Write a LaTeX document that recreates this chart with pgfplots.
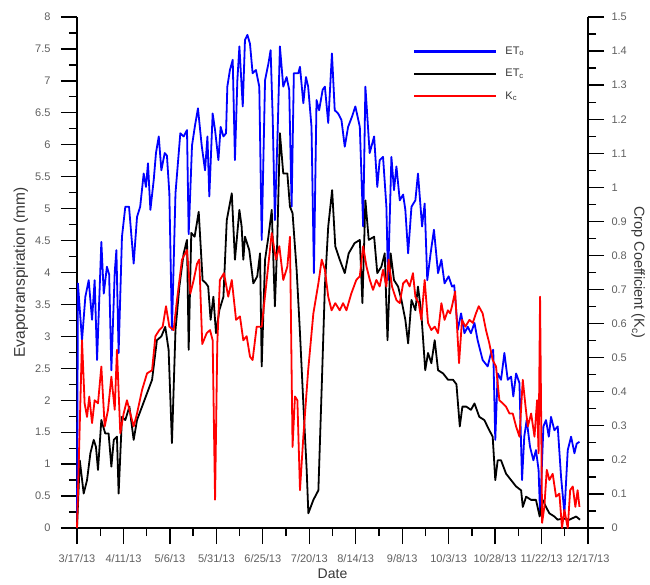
\documentclass[border=0pt]{standalone}
\usepackage{fontspec}
\setmainfont{Liberation Sans}
\usepackage{pgfplots}
\pgfplotsset{compat=1.18}
\definecolor{ticklab}{RGB}{95,95,95}
\definecolor{labc}{RGB}{55,55,55}

\pgfplotstableread{
day et
0 0
0.5 3.83
2.7 2.94
4.5 3.62
6.3 3.88
8.1 3.26
9.5 3.88
10.8 2.63
13.1 4.48
14.4 3.67
16.1 4.09
17.3 3.97
18.5 2.47
20.3 4.00
21.2 4.35
22.4 2.74
24.2 4.56
26.0 5.03
28.0 5.03
30.5 4.14
32.3 4.87
34.0 5.03
35.9 5.55
37.1 5.34
38.2 5.71
39.5 4.98
41.3 5.45
42.5 5.87
44.0 6.13
45.4 5.60
47.2 5.87
48.4 5.83
49.7 5.24
51.1 3.10
53.0 5.24
55.6 6.18
57.4 6.13
59.2 6.23
60.1 4.60
61.9 5.99
63.5 6.30
65.1 6.57
67.1 5.99
68.9 5.60
70.2 6.13
71.2 5.19
73.0 6.49
74.3 6.23
76.1 5.76
77.3 6.28
78.8 6.13
80.2 6.18
80.9 6.91
82.3 7.17
83.8 7.33
85.0 5.76
86.3 7.01
87.4 7.54
89.2 6.60
90.4 7.64
91.7 7.72
93.1 7.58
94.5 7.12
96.3 7.17
98.1 6.91
99.4 4.51
101.2 7.01
103.0 7.27
104.2 7.48
105.3 6.44
106.5 4.82
108.0 6.23
109.2 7.54
111.0 6.91
112.8 7.06
114.2 6.86
115.5 5.03
116.7 7.12
119.1 7.12
120.0 7.22
121.8 6.65
123.2 7.06
124.4 6.91
126.2 6.28
127.5 3.99
128.9 6.70
130.3 6.54
132.2 6.86
133.4 6.91
135.2 6.34
137.2 7.43
138.7 6.54
140.5 6.49
142.3 6.39
144.1 5.97
145.9 6.28
148.0 6.44
149.8 6.60
152.2 6.28
154.0 4.72
155.2 6.91
157.5 5.87
159.9 6.13
161.6 5.34
162.9 5.76
164.7 5.81
166.5 5.03
167.4 3.88
169.2 5.81
170.6 5.29
171.9 5.66
173.7 5.13
175.5 5.22
176.7 4.98
178.2 4.30
180.0 5.03
182.1 5.13
183.5 5.55
185.7 4.72
187.1 5.08
188.5 3.88
190.3 4.30
192.1 4.67
194.3 3.99
196.1 4.20
197.8 3.83
200.0 3.94
201.8 3.78
203.0 3.80
204.9 3.10
206.7 3.36
208.5 3.05
210.3 3.15
212.0 3.05
213.9 3.21
215.6 2.94
218.3 2.63
221.0 2.53
222.8 2.74
224.0 2.79
225.1 1.38
226.4 2.42
228.2 2.32
230.0 2.74
231.8 2.32
233.6 2.37
234.8 2.06
236.3 2.42
238.1 2.27
239.5 0.75
240.7 1.43
242.0 1.69
243.8 1.27
245.6 1.06
247.0 1.22
248.4 0.91
249.2 0.23
251.0 1.59
252.4 1.69
253.9 1.43
255.1 1.74
256.9 1.53
258.7 1.59
260.5 0.80
262.3 0.23
264.1 1.22
265.9 1.43
267.7 1.17
268.9 1.32
270.4 1.35
}\etodata

\pgfplotstableread{
day et
0 0
1.5 1.06
3.6 0.54
5.4 0.75
7.2 1.17
9.0 1.38
10.2 1.27
11.3 0.91
13.1 1.69
15.2 1.48
17.0 1.48
18.5 0.96
19.8 1.38
21.5 1.43
22.4 0.54
24.2 1.74
26.0 1.69
28.2 1.90
30.5 1.38
32.3 1.69
35.0 1.90
37.7 2.11
40.4 2.32
43.0 2.94
45.4 3.00
47.5 3.15
49.3 2.79
51.1 1.33
53.0 3.10
55.1 3.78
57.4 4.30
59.2 4.51
60.1 2.79
61.5 4.62
63.3 4.56
65.5 4.95
67.6 3.88
69.4 3.83
70.6 3.78
71.9 3.26
73.4 3.62
74.8 3.05
76.6 3.41
78.8 3.62
80.6 4.82
83.3 5.24
85.0 4.20
87.4 4.98
88.6 4.72
89.5 4.20
90.4 4.56
92.7 4.35
94.9 3.83
97.0 3.94
98.5 4.30
99.4 2.53
101.2 4.20
103.0 4.56
104.8 4.98
106.5 3.47
107.7 4.41
109.2 6.18
111.0 5.55
113.2 5.55
114.6 5.03
116.0 4.93
118.2 4.04
120.0 3.05
121.8 1.95
123.6 0.91
124.5 0.23
127.2 0.44
129.9 0.59
131.7 2.21
133.4 3.78
135.2 4.72
137.3 5.29
139.0 4.41
141.4 4.20
144.1 3.99
146.2 4.30
149.4 4.46
152.2 4.51
153.6 3.52
155.2 5.13
157.0 4.51
159.9 4.56
161.6 3.99
163.8 4.09
165.6 4.30
167.1 2.94
168.8 4.30
170.6 3.88
172.8 3.78
174.6 3.57
176.7 3.26
178.2 2.89
180.0 3.57
182.1 3.41
183.5 3.78
185.3 3.36
187.4 2.47
188.9 2.74
190.7 2.58
192.5 2.94
194.3 2.47
197.0 2.42
199.7 2.32
202.4 2.32
204.2 2.25
206.0 1.59
207.4 1.90
209.5 1.90
212.0 1.85
213.9 1.95
216.5 1.74
219.2 1.69
221.9 1.53
223.7 1.43
225.1 0.75
226.4 1.06
228.2 1.06
230.9 0.85
233.6 0.75
236.3 0.65
239.0 0.59
239.9 0.33
241.7 0.49
244.4 0.44
247.0 0.44
249.0 0.18
250.6 0.44
252.4 0.33
254.2 0.23
256.9 0.18
258.7 0.13
261.4 0.15
265.0 0.13
268.6 0.18
270.7 0.13
}\etcdata

\pgfplotstableread{
day kc
0 0
2.7 0.551
4.1 0.366
5.4 0.326
6.6 0.386
8.1 0.308
9.5 0.375
11.3 0.366
13.1 0.474
14.9 0.298
16.7 0.347
18.5 0.444
20.3 0.347
21.5 0.523
23.3 0.278
25.1 0.336
26.9 0.375
28.7 0.336
30.5 0.298
32.3 0.336
35.0 0.405
37.7 0.454
40.4 0.463
42.2 0.563
44.3 0.581
46.1 0.591
47.9 0.651
49.7 0.591
52.0 0.581
53.8 0.669
56.5 0.788
59.2 0.816
61.0 0.688
62.8 0.728
64.6 0.776
65.8 0.788
67.4 0.540
69.8 0.572
71.6 0.581
73.0 0.551
74.3 0.083
75.5 0.542
76.9 0.728
79.1 0.748
81.4 0.679
83.3 0.728
85.6 0.611
87.7 0.621
89.5 0.551
91.3 0.563
93.1 0.503
94.5 0.493
96.7 0.591
99.4 0.591
102.1 0.728
104.8 0.866
107.1 0.788
108.9 0.827
111.0 0.728
113.2 0.767
114.6 0.855
116.0 0.238
117.3 0.386
118.6 0.375
120.0 0.111
121.8 0.268
124.4 0.463
127.2 0.630
129.9 0.718
131.7 0.788
133.4 0.758
135.2 0.679
137.0 0.639
139.0 0.660
141.4 0.639
143.2 0.660
145.0 0.639
147.6 0.688
150.3 0.728
152.2 0.739
154.0 0.827
155.8 0.767
157.6 0.728
159.3 0.699
161.1 0.728
162.9 0.709
164.7 0.758
166.5 0.709
167.7 0.788
169.5 0.709
171.9 0.669
173.7 0.660
175.5 0.718
177.3 0.728
179.0 0.709
180.8 0.748
182.1 0.679
183.9 0.660
185.3 0.611
187.1 0.728
188.9 0.602
190.7 0.581
192.5 0.591
194.3 0.572
196.1 0.660
197.8 0.611
199.6 0.639
200.8 0.630
201.8 0.651
203.5 0.694
205.6 0.484
207.2 0.611
209.0 0.591
211.2 0.611
213.0 0.602
214.7 0.630
216.2 0.651
218.3 0.630
220.1 0.581
221.9 0.542
223.7 0.493
225.5 0.474
227.3 0.375
229.1 0.366
230.9 0.356
232.7 0.336
234.5 0.336
236.3 0.298
238.1 0.268
239.9 0.435
241.4 0.356
242.6 0.298
244.4 0.336
246.2 0.268
247.6 0.375
248.4 0.219
249.2 0.679
250.3 0.015
251.5 0.062
252.8 0.171
254.2 0.141
256.0 0.159
257.8 0.092
259.6 0.101
261.0 0.000
262.3 0.053
264.1 0.000
265.4 0.111
266.8 0.122
268.2 0.062
269.4 0.111
270.4 0.062
}\kcdata

\begin{document}
\begin{tikzpicture}
\useasboundingbox (-77pt,-56pt) rectangle (573pt,528pt);
\begin{axis}[
  at={(0,0)}, anchor=south west,
  scale only axis, width=511pt, height=511pt,
  xmin=0, xmax=275, ymin=0, ymax=8,
  clip=false,
  axis x line*=bottom, axis y line*=left,
  axis line style={-, line width=1.4pt, black},
  tick align=outside,
  major tick length=16pt, minor tick length=8pt,
  every tick/.style={black, line width=1.3pt},
  xtick={0,25,50,75,100,125,150,175,200,225,250,275},
  xticklabels={3/17/13,4/11/13,5/6/13,5/31/13,6/25/13,7/20/13,8/14/13,9/8/13,10/3/13,10/28/13,11/22/13,12/17/13},
  minor xtick={12.5,37.5,62.5,87.5,112.5,137.5,162.5,187.5,212.5,237.5,262.5},
  ytick={0,0.5,1,1.5,2,2.5,3,3.5,4,4.5,5,5.5,6,6.5,7,7.5,8},
  minor ytick={0.25,0.75,1.25,1.75,2.25,2.75,3.25,3.75,4.25,4.75,5.25,5.75,6.25,6.75,7.25,7.75},
  /pgf/number format/assume math mode=true,
  ticklabel style={font=\fontsize{11}{13}\selectfont, text=ticklab},
  xticklabel style={yshift=-7pt},
  yticklabel style={xshift=-7pt},
  xlabel={Date},
  xlabel style={at={(axis description cs:0.5,-0.09)}, anchor=center, font=\fontsize{14}{16}\selectfont, text=labc},
  ylabel={Evapotranspiration (mm)},
  ylabel style={at={(axis description cs:-0.1096,0.5)}, anchor=center, font=\fontsize{15.5}{18}\selectfont, text=labc},
]
\addplot[blue, line width=1.8pt, line join=round] table[x=day, y=et] {\etodata};
\addplot[black, line width=1.8pt, line join=round] table[x=day, y=et] {\etcdata};
\end{axis}
\begin{axis}[
  at={(0,0)}, anchor=south west,
  scale only axis, width=511pt, height=511pt,
  xmin=0, xmax=275, ymin=0, ymax=1.5,
  clip=false,
  axis x line=none, axis y line*=right,
  axis line style={-, line width=1.4pt, black},
  tick align=outside,
  major tick length=16pt, minor tick length=8pt,
  every tick/.style={black, line width=1.3pt},
  ytick={0,0.1,0.2,0.3,0.4,0.5,0.6,0.7,0.8,0.9,1,1.1,1.2,1.3,1.4,1.5},
  minor ytick={0.05,0.15,0.25,0.35,0.45,0.55,0.65,0.75,0.85,0.95,1.05,1.15,1.25,1.35,1.45},
  /pgf/number format/assume math mode=true,
  ticklabel style={font=\fontsize{11}{13}\selectfont, text=ticklab},
  yticklabel style={xshift=4pt},
  ylabel={Crop Coefficient (K\textsubscript{c})},
  ylabel style={at={(axis description cs:1.098,0.5)}, anchor=center, rotate=180, font=\fontsize{14.5}{17}\selectfont, text=labc},
  legend image code/.code={\draw[#1] (0pt,0pt) -- (82pt,0pt);},
  legend cell align=left,
  legend style={draw=none, fill=none, at={(rel axis cs:0.657,0.946)}, anchor=north west,
    inner sep=0pt, row sep=9.5pt, column sep=7pt,
    nodes={inner sep=0.5pt, text height=9pt, text depth=3pt},
    font=\fontsize{11}{13}\selectfont, text=labc},
]
\addlegendimage{blue, line width=3pt}
\addlegendentry{ET\textsubscript{o}}
\addlegendimage{black, line width=2.2pt}
\addlegendentry{ET\textsubscript{c}}
\addplot[red, line width=1.8pt, line join=round] table[x=day, y=kc] {\kcdata};
\addlegendentry{K\textsubscript{c}}
\end{axis}
\end{tikzpicture}
\end{document}
